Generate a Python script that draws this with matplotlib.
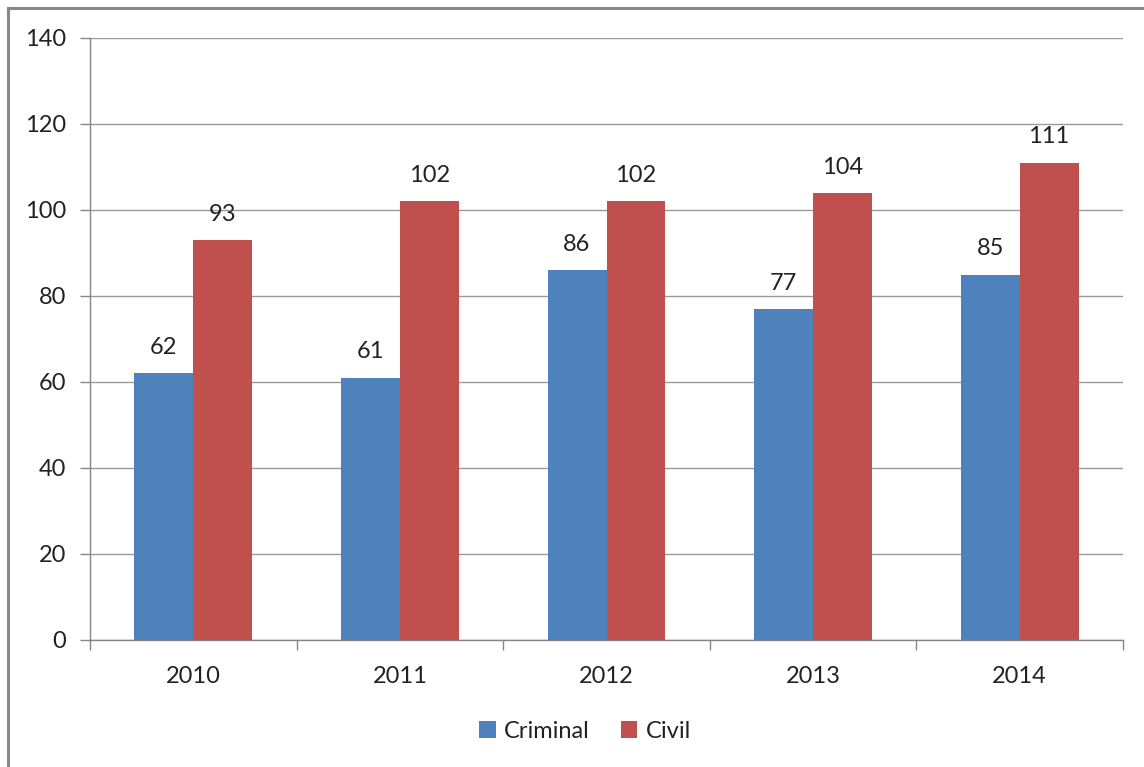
import matplotlib
matplotlib.use("Agg")
import matplotlib.pyplot as plt
from matplotlib.lines import Line2D
import numpy as np

years = ["2010", "2011", "2012", "2013", "2014"]
criminal = [62, 61, 86, 77, 85]
civil = [93, 102, 102, 104, 111]
series_names = ["Criminal", "Civil"]
colors = ["#4F81BD", "#C0504D"]

plt.rcParams['font.family'] = ['Lato', 'DejaVu Sans']
FS = 17

fig = plt.figure(figsize=(11.44, 7.67), dpi=100)
ax = fig.add_axes([90/1144, 1-640/767, (1123-90)/1144, (640-38)/767])

x = np.arange(len(years))
w = 0.285
b1 = ax.bar(x - w/2, criminal, w, color=colors[0], label=series_names[0], zorder=3)
b2 = ax.bar(x + w/2, civil, w, color=colors[1], label=series_names[1], zorder=3)

for bars, vals in ((b1, criminal), (b2, civil)):
    for r, v in zip(bars, vals):
        ax.annotate(str(v), (r.get_x() + r.get_width()/2, v), xytext=(0, 11),
                    textcoords="offset points", ha="center", va="bottom",
                    fontsize=FS, color="#222222")

ax.set_xlim(-0.5, len(years) - 0.5)
ax.set_ylim(0, 140)
ax.set_yticks(np.arange(0, 141, 20))
ax.yaxis.grid(True, color="#9a9a9a", linewidth=1.0, zorder=0)
ax.set_axisbelow(True)

ax.set_xticks(x)
ax.set_xticklabels(years)
ax.set_xticks(np.arange(-0.5, len(years)), minor=True)
ax.tick_params(axis="x", which="major", length=0, pad=19, labelsize=FS, labelcolor="#222222")
ax.tick_params(axis="x", which="minor", length=7, width=1, color="#868686", direction="out")
ax.tick_params(axis="y", length=7, width=1, color="#868686", pad=10, labelsize=FS, labelcolor="#222222")

for s in ["top", "right"]:
    ax.spines[s].set_visible(False)
for s in ["left", "bottom"]:
    ax.spines[s].set_color("#868686")
    ax.spines[s].set_linewidth(1.0)

leg = fig.legend(handles=[b1, b2], labels=series_names, loc="center",
                 bbox_to_anchor=(585/1144, 1-731/767), ncol=2, frameon=False,
                 fontsize=FS, handlelength=0.7, handleheight=0.7,
                 handletextpad=0.35, columnspacing=1.3)
for t in leg.get_texts():
    t.set_color("#222222")

# outer border (top and left visible)
fig.add_artist(Line2D([8/1144, 8/1144], [0, 1-8/767], color="#888888", linewidth=2.2, transform=fig.transFigure))
fig.add_artist(Line2D([8/1144, 1], [1-8/767, 1-8/767], color="#888888", linewidth=2.2, transform=fig.transFigure))

fig.savefig("out.png", dpi=100)
